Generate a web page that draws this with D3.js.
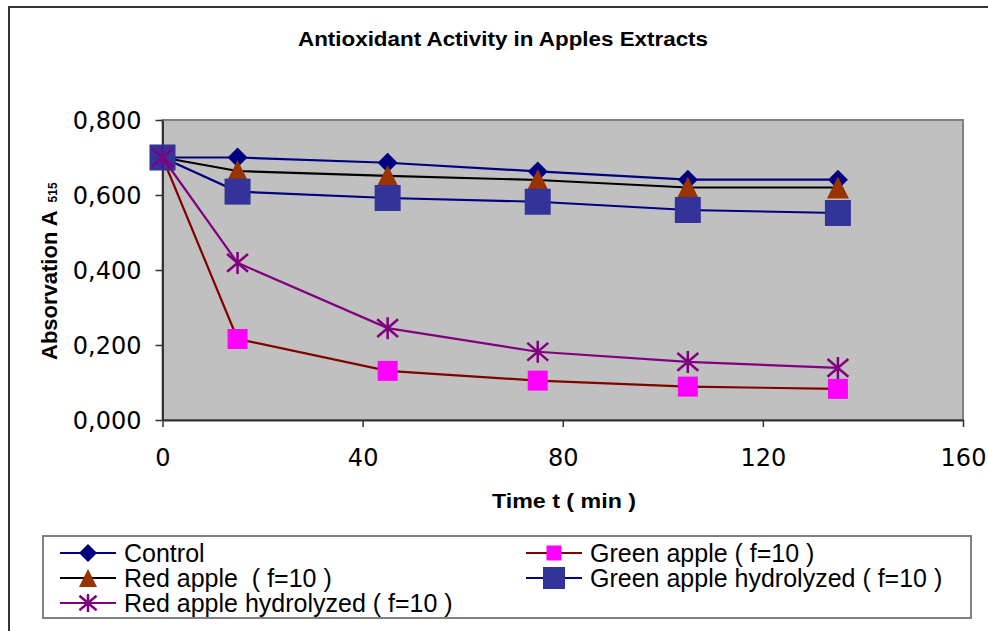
<!DOCTYPE html>
<html>
<head>
<meta charset="utf-8">
<script src="https://cdn.jsdelivr.net/npm/d3@7"></script>
<style>
  body { margin: 0; background: #fff; }
  svg { display: block; }
  text { white-space: pre; }
</style>
</head>
<body>
<script>
// data
const times = [0, 15, 45, 75, 105, 135]
const control = [0.700, 0.700, 0.686, 0.663, 0.641, 0.641]
const redApple = [0.700, 0.664, 0.651, 0.640, 0.620, 0.620]
const greenApple = [0.700, 0.216, 0.131, 0.105, 0.089, 0.083]
const greenHydro = [0.700, 0.609, 0.592, 0.582, 0.560, 0.552]
const redHydro = [0.700, 0.419, 0.245, 0.182, 0.155, 0.139]
const xTicks = [0, 40, 80, 120, 160]
const yTicks = [0, 0.2, 0.4, 0.6, 0.8]

let W = 988, H = 631
let plot = { left: 162.5, right: 963, top: 120, bottom: 420 }

// series, in drawing order
let series = [
  { name: 'Control', vals: control, line: '#000080', mark: 'diamond', fill: '#000080', size: 20, lsize: 18 },
  { name: 'Red apple  ( f=10 )', vals: redApple, line: '#000000', mark: 'triangle', fill: '#993300', size: 22, lsize: 18 },
  { name: 'Green apple ( f=10 )', vals: greenApple, line: '#800000', mark: 'square', fill: '#ff00ff', size: 20, lsize: 15 },
  { name: 'Green apple hydrolyzed ( f=10 )', vals: greenHydro, line: '#000080', mark: 'square', fill: '#333399', size: 26, lsize: 22 },
  { name: 'Red apple hydrolyzed ( f=10 )', vals: redHydro, line: '#800080', mark: 'star', fill: '#800080', size: 22, lsize: 18 }
]

let svg = d3.select('body').append('svg')
  .attr('width', W).attr('height', H)

// outer chart frame (runs off the right / bottom)
svg.append('rect')
  .attr('x', 9).attr('y', 7).attr('width', W + 20).attr('height', H + 20)
  .attr('fill', '#fff').attr('stroke', '#333').attr('stroke-width', 2)

let xScale = d3.scaleLinear().domain([0, 160]).range([plot.left, plot.right])
let yScale = d3.scaleLinear().domain([0, 0.8]).range([plot.bottom, plot.top])

// plot area
svg.append('rect')
  .attr('x', plot.left).attr('y', plot.top)
  .attr('width', plot.right - plot.left).attr('height', plot.bottom - plot.top)
  .attr('fill', '#c0c0c0').attr('stroke', '#808080').attr('stroke-width', 2)

// axes
let fmt = d => d3.format('.3f')(d).replace('.', ',')
let yAxis = svg.append('g')
  .attr('transform', 'translate(' + plot.left + ',0)')
  .call(d3.axisLeft(yScale).tickValues(yTicks).tickFormat(fmt).tickSize(7).tickSizeOuter(0).tickPadding(14))
let xAxis = svg.append('g')
  .attr('transform', 'translate(0,' + plot.bottom + ')')
  .call(d3.axisBottom(xScale).tickValues(xTicks).tickSize(7).tickSizeOuter(0).tickPadding(22))

svg.selectAll('.domain').attr('stroke', '#333').attr('stroke-width', 2)
svg.selectAll('.tick line').attr('stroke', '#333').attr('stroke-width', 1.5)
svg.selectAll('.tick text')
  .attr('fill', '#000')
  .attr('font-family', '"DejaVu Sans", sans-serif')
  .attr('font-size', 24)
yAxis.selectAll('.tick text').attr('dy', '0.36em')

// marker drawing
function drawMarker (g, type, size, fill) {
  let h = size / 2
  if (type === 'diamond') {
    g.append('path').attr('d', 'M0,' + (-h) + 'L' + h + ',0L0,' + h + 'L' + (-h) + ',0Z').attr('fill', fill)
  } else if (type === 'triangle') {
    g.append('path').attr('d', 'M0,' + (-h) + 'L' + h + ',' + h + 'L' + (-h) + ',' + h + 'Z').attr('fill', fill)
  } else if (type === 'square') {
    g.append('rect').attr('x', -h).attr('y', -h).attr('width', size).attr('height', size).attr('fill', fill)
  } else if (type === 'star') {
    let r = h * 0.95
    g.append('path')
      .attr('d', 'M0,' + (-h) + 'V' + h + 'M' + (-r) + ',' + (-r * 0.85) + 'L' + r + ',' + (r * 0.85) + 'M' + (-r) + ',' + (r * 0.85) + 'L' + r + ',' + (-r * 0.85))
      .attr('stroke', fill).attr('stroke-width', 2.5).attr('fill', 'none')
  }
}

let line = d3.line()
  .x(function (d) { return xScale(d[0]) })
  .y(function (d) { return yScale(d[1]) })

series.forEach(function (s) {
  let pts = times.map(function (t, i) { return [t, s.vals[i]] })
  svg.append('path')
    .attr('d', line(pts))
    .attr('fill', 'none')
    .attr('stroke', s.line)
    .attr('stroke-width', 2.2)
  pts.forEach(function (p) {
    let g = svg.append('g').attr('transform', 'translate(' + xScale(p[0]) + ',' + yScale(p[1]) + ')')
    drawMarker(g, s.mark, s.size, s.fill)
  })
})

// title
svg.append('text')
  .attr('x', 503).attr('y', 46)
  .attr('text-anchor', 'middle')
  .attr('font-family', '"Liberation Sans", Arial, sans-serif')
  .attr('font-weight', 'bold').attr('font-size', 20)
  .attr('textLength', 410).attr('lengthAdjust', 'spacingAndGlyphs')
  .text('Antioxidant Activity in Apples Extracts')

// x axis title
svg.append('text')
  .attr('x', 564).attr('y', 508)
  .attr('text-anchor', 'middle')
  .attr('font-family', '"Liberation Sans", Arial, sans-serif')
  .attr('font-weight', 'bold').attr('font-size', 20)
  .attr('textLength', 144).attr('lengthAdjust', 'spacingAndGlyphs')
  .text('Time t ( min )')

// y axis title with subscript
let yt = svg.append('text')
  .attr('transform', 'translate(57,360) rotate(-90)')
  .attr('font-family', '"Liberation Sans", Arial, sans-serif')
  .attr('font-weight', 'bold').attr('font-size', 22)
yt.append('tspan').text('Absorvation A')
yt.append('tspan').attr('dx', 8).attr('font-size', 12).text('515')

// legend
svg.append('rect')
  .attr('x', 43).attr('y', 536).attr('width', 928).attr('height', 82)
  .attr('fill', '#fff').attr('stroke', '#808080').attr('stroke-width', 2)

let legendPos = [
  { x: 60, y: 553 }, // Control
  { x: 60, y: 578 }, // Red apple
  { x: 526, y: 553 }, // Green apple
  { x: 526, y: 578 }, // Green apple hydrolyzed
  { x: 60, y: 603 } // Red apple hydrolyzed
]
series.forEach(function (s, i) {
  let p = legendPos[i]
  let g = svg.append('g').attr('transform', 'translate(' + p.x + ',' + p.y + ')')
  g.append('line').attr('x1', 0).attr('x2', 56).attr('y1', 0).attr('y2', 0)
    .attr('stroke', s.line).attr('stroke-width', 2.2)
  let m = g.append('g').attr('transform', 'translate(28,0)')
  drawMarker(m, s.mark, s.lsize, s.fill)
  g.append('text')
    .attr('x', 64).attr('y', 8.5)
    .attr('font-family', '"Liberation Sans", Arial, sans-serif')
    .attr('font-size', 25)
    .text(s.name)
})
</script>
</body>
</html>
